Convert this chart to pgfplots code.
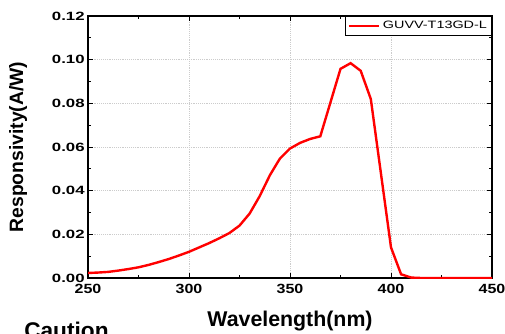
\documentclass[border=0pt]{standalone}
\usepackage{pgfplots}
\pgfplotsset{compat=1.18}
\usepackage{fontspec}
\setmainfont{Liberation Sans}
\newfontfamily\ytfont[FakeStretch=1.4]{Liberation Sans}
\newfontfamily\xtfont[FakeStretch=1.2]{Liberation Sans}
\newfontfamily\lgfont[FakeStretch=1.35]{Liberation Sans}
\begin{document}
\begin{tikzpicture}
\clip (-66pt,-41.25pt) rectangle (312.75pt,208.5pt);
\useasboundingbox (-66pt,-41.25pt) rectangle (312.75pt,208.5pt);
\begin{axis}[
  at={(0,0)}, anchor=south west,
  scale only axis, width=303pt, height=196.5pt,
  xmin=250, xmax=450, ymin=0, ymax=0.12,
  xtick={250,300,350,400,450},
  ytick={0,0.02,0.04,0.06,0.08,0.10,0.12},
  minor x tick num=1, minor y tick num=1,
  tick align=inside,
  major tick length=4pt, minor tick length=2.5pt,
  axis line style={line width=0.9pt},
  every tick/.style={black, line width=0.6pt},
  grid=major,
  major grid style={densely dotted, gray!40, line width=0.5pt},
  /pgf/number format/assume math mode=true,
  yticklabel style={/pgf/number format/fixed, /pgf/number format/fixed zerofill, /pgf/number format/precision=2, font=\fontsize{9pt}{11pt}\ytfont\bfseries, xshift=1pt},
  xticklabel style={font=\fontsize{10pt}{12pt}\xtfont\bfseries, yshift=-1pt},
  scaled y ticks=false,
  xlabel={Wavelength(nm)},
  ylabel={Responsivity(A/W)},
  xlabel style={font=\fontsize{16pt}{18pt}\selectfont\bfseries, at={(axis description cs:0.5,-0.164)}, anchor=center},
  ylabel style={font=\fontsize{14.5pt}{17pt}\selectfont\bfseries, at={(axis description cs:-0.173,0.5)}, anchor=center},
  legend style={at={(rel axis cs:1,1)}, anchor=north east, draw=black, line width=0.6pt, font=\fontsize{8pt}{9.5pt}\lgfont, inner sep=1.5pt, row sep=0pt, legend cell align=left},
  legend image code/.code={\draw[#1, line width=1.6pt] (0cm,0cm) -- (0.8cm,0cm);},
]
\addplot[red, line width=1.8pt] coordinates {
(250,0.0023) (255,0.0025) (260,0.0028) (265,0.0034) (270,0.0041) (275,0.0049)
(280,0.0060) (285,0.0073) (290,0.0087) (295,0.0103) (300,0.0120) (305,0.0140)
(310,0.0160) (315,0.0182) (320,0.0206) (325,0.0240) (330,0.0295) (335,0.0375)
(340,0.0470) (345,0.0547) (350,0.0593) (355,0.0619) (360,0.0637) (365,0.0649)
(375,0.0958) (380,0.0984) (385,0.0949) (390,0.0820) (400,0.0140) (405,0.0017)
(410,0.0002) (415,0) (420,0) (430,0) (440,0) (450,0)
};
\addlegendentry{GUVV-T13GD-L}
\end{axis}
\node[anchor=north west, font=\fontsize{17pt}{19pt}\selectfont\bfseries, inner sep=0pt] at (-48pt,-32.5pt) {Caution};
\end{tikzpicture}
\end{document}
